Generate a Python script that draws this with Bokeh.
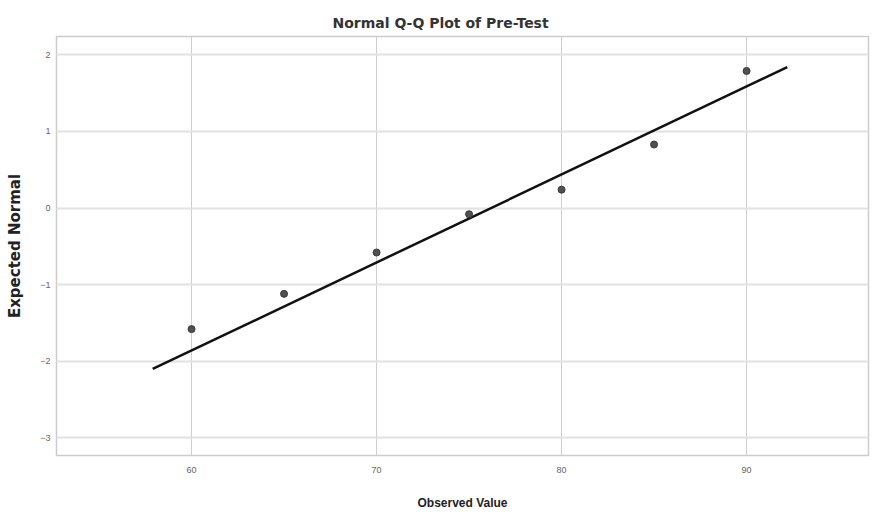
from bokeh.plotting import figure
from bokeh.models import FixedTicker, Range1d
from bokeh.embed import file_html
from bokeh.resources import INLINE

# Data
observed = [60, 65, 70, 75, 80, 85, 90]
expected = [-1.58, -1.12, -0.58, -0.08, 0.24, 0.83, 1.79]
line_x = [57.9, 92.2]
line_y = [-2.10, 1.84]
x_ticks = [60, 70, 80, 90]
y_ticks = [-3, -2, -1, 0, 1, 2]

p = figure(width=872, height=515, output_backend="svg", toolbar_location=None,
           x_range=Range1d(52.70, 96.59), y_range=Range1d(-3.23, 2.24),
           min_border_left=56, min_border_right=4, min_border_top=36, min_border_bottom=60,
           title="Normal Q-Q Plot of Pre-Test")

p.title.align = "left"
p.title.offset = 276
p.title.text_font = "DejaVu Sans"
p.title.text_font_size = "14px"
p.title.text_font_style = "bold"
p.title.text_color = "#333333"
p.title.standoff = 11

p.outline_line_color = "#cccccc"
p.outline_line_width = 1.5
p.background_fill_color = "white"
p.border_fill_color = "white"

p.xaxis.ticker = FixedTicker(ticks=x_ticks)
p.yaxis.ticker = FixedTicker(ticks=y_ticks)
for ax in (p.xaxis, p.yaxis):
    ax.axis_line_color = None
    ax.major_tick_line_color = None
    ax.minor_tick_line_color = None
    ax.major_tick_out = 0
    ax.major_tick_in = 0
    ax.minor_tick_out = 0
    ax.major_label_text_font = "Liberation Sans"
    ax.major_label_text_font_size = "9px"
    ax.major_label_text_color = "#666666"
    ax.axis_label_text_font_style = "bold"
    ax.axis_label_text_color = "#222222"

p.xaxis.axis_label = "Observed Value"
p.yaxis.axis_label = "Expected Normal"
p.xaxis.axis_label_text_font = "Liberation Sans"
p.xaxis.axis_label_text_font_size = "12px"
p.yaxis.axis_label_text_font = "DejaVu Sans"
p.yaxis.axis_label_text_font_size = "15px"
p.xaxis.major_label_standoff = 11
p.xaxis.axis_label_standoff = 20
p.yaxis.major_label_standoff = 6
p.yaxis.axis_label_standoff = 13

p.xgrid.grid_line_color = "#cfcfcf"
p.xgrid.grid_line_width = 1
p.ygrid.grid_line_color = "#e2e2e2"
p.ygrid.grid_line_width = 2

p.line(line_x, line_y, line_color="#111111", line_width=2.5)
p.scatter(observed, expected, size=7, fill_color="#505050", line_color="#3a3a3a")

open("out.html", "w").write(file_html(p, INLINE))
